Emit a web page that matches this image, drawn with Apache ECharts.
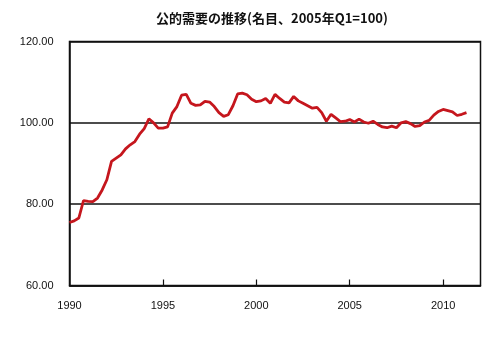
<!DOCTYPE html>
<html>
<head>
<meta charset="utf-8">
<script src="https://cdn.jsdelivr.net/npm/echarts@6/dist/echarts.min.js"></script>
<style>html,body{margin:0;padding:0;background:#fff}#c{width:500px;height:342px}</style>
</head>
<body>
<div id="c"></div>
<script>
var titleText = '公的需要の推移(名目、2005年Q1=100)';
var startYear = 1990;
var endYear = 2012;
var yTicks = [60, 80, 100, 120];
// quarterly values, 1990Q1 .. 2011Q2
var publicDemand = [
  75.5, 75.9, 76.6, 80.9, 80.7, 80.6, 81.5, 83.5, 86.0, 90.5,
  91.3, 92.1, 93.6, 94.6, 95.4, 97.2, 98.6, 101.0, 100.0, 98.7,
  98.7, 99.0, 102.4, 104.0, 106.8, 107.0, 104.8, 104.3, 104.4, 105.3,
  105.1, 104.0, 102.5, 101.6, 102.0, 104.2, 107.1, 107.3, 106.9, 105.8,
  105.2, 105.4, 106.0, 104.8, 107.0, 106.0, 105.1, 104.9, 106.5, 105.4,
  104.8, 104.2, 103.6, 103.8, 102.5, 100.4, 102.1, 101.2, 100.3, 100.4,
  100.8, 100.2, 100.9, 100.2, 99.9, 100.4, 99.6, 99.0, 98.8, 99.2,
  98.8, 100.0, 100.3, 99.8, 99.1, 99.3, 100.2, 100.6, 101.9, 102.8,
  103.3, 103.0, 102.7, 101.8, 102.1, 102.5
];
var quarters = [];
for (var y = startYear; y <= endYear; y++) {
  for (var q = 1; q <= 4; q++) {
    if (y === endYear && q > 1) break;
    quarters.push(y + 'Q' + q);
  }
}
var chart = echarts.init(document.getElementById('c'), null, {renderer: 'canvas'});
var font = '"Liberation Sans", Arial, sans-serif';
chart.setOption({
  animation: false,
  backgroundColor: '#fff',
  title: {
    text: titleText,
    left: 267, top: 7, textAlign: 'center',
    textStyle: {fontSize: 13, fontWeight: 'bold', color: '#111', fontFamily: '"Noto Sans CJK JP", sans-serif'}
  },
  grid: {
    left: 69.5, right: 19.5, top: 41.5, bottom: 56.5,
    show: true, borderColor: '#111', borderWidth: 1.5, backgroundColor: 'transparent'
  },
  xAxis: {
    type: 'category',
    data: quarters,
    boundaryGap: false,
    axisLine: {show: true, lineStyle: {color: '#111', width: 1.5}},
    axisTick: {show: true, inside: true, length: 6, interval: function (i) { return i % 20 === 0 && i > 0; }, lineStyle: {color: '#111', width: 1.2}},
    axisLabel: {
      interval: function (i) { return i % 20 === 0; },
      formatter: function (v) { return v.slice(0, 4); },
      color: '#111', fontSize: 11, fontFamily: font, margin: 15
    },
    splitLine: {show: false}
  },
  yAxis: {
    type: 'value',
    min: yTicks[0], max: yTicks[yTicks.length - 1], interval: 20,
    axisLine: {show: true, lineStyle: {color: '#111', width: 1.5}},
    axisTick: {show: false},
    axisLabel: {
      formatter: function (v) { return v.toFixed(2); },
      color: '#111', fontSize: 11, fontFamily: font, margin: 16
    },
    splitLine: {show: true, lineStyle: {color: '#111', width: 1.5}}
  },
  series: [{
    type: 'line',
    data: publicDemand,
    showSymbol: false,
    symbol: 'none',
    lineStyle: {color: '#c5161d', width: 2.8},
    smooth: false
  }]
});
</script>
</body>
</html>
